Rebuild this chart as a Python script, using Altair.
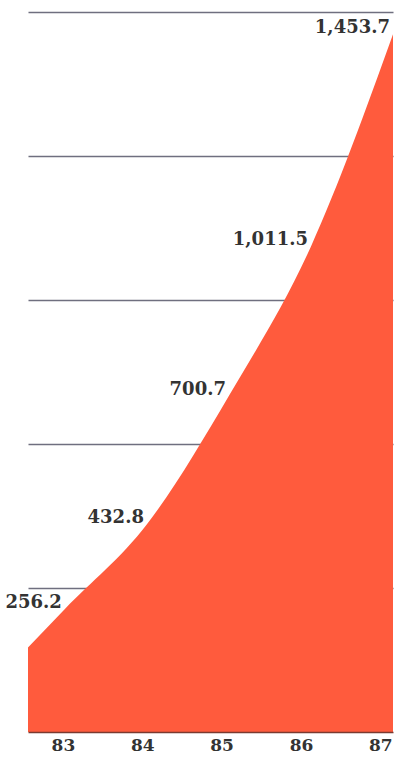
import altair as alt
import pandas as pd

# Data
years = [82.55, 83, 84, 85, 86, 87]          # 82.55 = visible left edge of the area
values = [176, 256.2, 432.8, 700.7, 1011.5, 1453.7]
label_years = [83, 84, 85, 86, 87]
label_values = [256.2, 432.8, 700.7, 1011.5, 1453.7]
label_texts = ["256.2", "432.8", "700.7", "1,011.5", "1,453.7"]
grid_values = [300, 600, 900, 1200, 1500]

area_df = pd.DataFrame({"year": years, "value": values})
label_df = pd.DataFrame({"year": label_years, "value": label_values, "text": label_texts})
axis_df = pd.DataFrame({"year": label_years, "value": [0] * len(label_years)})

xscale = alt.Scale(domain=[82.55, 87], nice=False, zero=False)
axis_scale = alt.Scale(domain=[82.56, 87.16], nice=False, zero=False)
yscale = alt.Scale(domain=[0, 1500], nice=False)

area = alt.Chart(area_df).mark_area(
    color="#FF5B3D", interpolate="monotone", opacity=1
).encode(
    x=alt.X("year:Q", scale=xscale, axis=None),
    y=alt.Y("value:Q", scale=yscale,
            axis=alt.Axis(values=grid_values, title=None, labels=False, ticks=False,
                          domain=False, grid=True, gridColor="#6f6f7f",
                          gridWidth=1.5, gridOpacity=1)),
)

text = alt.Chart(label_df).mark_text(
    align="right", baseline="middle", dx=-3, dy=-6,
    font="DejaVu Serif", fontWeight="bold", fontSize=18, color="#333333"
).encode(
    x=alt.X("year:Q", scale=xscale, axis=None),
    y=alt.Y("value:Q", scale=yscale),
    text="text:N",
)

axis_layer = alt.Chart(axis_df).mark_point(opacity=0).encode(
    x=alt.X("year:Q", scale=axis_scale,
            axis=alt.Axis(values=label_years, title=None, ticks=False, grid=False,
                          domain=True, domainColor="#7a3a30", domainWidth=1.5,
                          labelFont="DejaVu Serif", labelFontWeight="bold",
                          labelFontSize=17, labelColor="#333333",
                          labelPadding=5, labelFlush=False,
                          labelBound=False, labelOverlap=False,
                          labelExpr="datum.value", zindex=1)),
    y=alt.Y("value:Q", scale=yscale),
)

chart = alt.layer(area, text, axis_layer).resolve_scale(x="independent").properties(
    width=365, height=720,
    padding={"left": 28, "top": 12, "right": 10, "bottom": 25},
    autosize=alt.AutoSizeParams(type="none"),
    background="white",
).configure_view(stroke=None)

chart.save("out.html", embed_options={"renderer": "svg", "actions": False})
